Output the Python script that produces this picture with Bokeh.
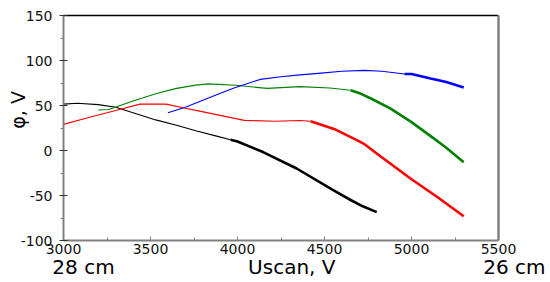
from bokeh.plotting import figure
from bokeh.models import Range1d, LinearAxis, FixedTicker
from bokeh.embed import file_html
from bokeh.resources import INLINE

# ---- data ----
black_u = [3000, 3080, 3200, 3300, 3400, 3530, 3650, 3760, 3880, 3960, 4000, 4150, 4340, 4540, 4650, 4720, 4800]
black_phi = [51.5, 52.5, 51, 48, 42, 34, 28, 22, 16, 12, 10, -2, -20, -43, -55, -62, -68.5]
black_thick_from = 3960

red_u = [3000, 3150, 3300, 3440, 3590, 3700, 3790, 3900, 4040, 4210, 4360, 4420, 4555, 4680, 4730, 4825, 5000, 5150, 5300]
red_phi = [29, 37, 44.5, 51.5, 51.5, 47, 43.5, 39, 33.5, 32.5, 33.3, 32.5, 24, 12, 7, -7, -32, -52, -73]
red_thick_from = 4420

green_u = [3200, 3260, 3400, 3530, 3650, 3760, 3830, 3990, 4170, 4360, 4530, 4650, 4710, 4770, 4880, 5000, 5110, 5200, 5300]
green_phi = [45, 45.5, 55, 63, 69, 72.6, 74, 72.5, 69, 71, 69.5, 67, 63, 57.5, 46.5, 31.5, 16, 3, -13]
green_thick_from = 4650

blue_u = [3600, 3700, 3790, 3880, 3980, 4050, 4130, 4250, 4360, 4480, 4600, 4730, 4830, 4960, 5000, 5110, 5200, 5300]
blue_phi = [42, 48, 55, 62, 69.5, 74, 79, 82, 84, 86, 88, 89, 88, 85, 85, 80, 76, 70]
blue_thick_from = 4960

x_ticks = [3000, 3500, 4000, 4500, 5000, 5500]
y_ticks = [-100, -50, 0, 50, 100, 150]
y_tick_labels = ["-100", "-50", "0", "50", "100", "150"]

x_title = "Uscan, V"
y_title = "φ, V"
left_note = "28 cm"
right_note = "26 cm"

FONT = "DejaVu Sans"
NBSP = "\u00a0"

p = figure(width=550, height=282, output_backend="svg", toolbar_location=None,
           x_range=Range1d(3000, 5500), y_range=Range1d(-100, 150),
           min_border_left=63, min_border_right=52, min_border_top=15, min_border_bottom=42)
p.outline_line_color = None
p.grid.visible = False
p.background_fill_color = "white"
p.border_fill_color = "white"

series = [
    (black_u, black_phi, black_thick_from, "black"),
    (red_u, red_phi, red_thick_from, "#ff0000"),
    (green_u, green_phi, green_thick_from, "#008000"),
    (blue_u, blue_phi, blue_thick_from, "#0000ff"),
]
for u, phi, cut, col in series:
    thin_u = [a for a in u if a <= cut]
    thin_p = [b for a, b in zip(u, phi) if a <= cut]
    thick_u = [a for a in u if a >= cut]
    thick_p = [b for a, b in zip(u, phi) if a >= cut]
    p.line(thin_u, thin_p, line_color=col, line_width=1.1)
    p.line(thick_u, thick_p, line_color=col, line_width=2.6)

# bottom axis (numbers)
xa = p.xaxis[0]
xa.ticker = FixedTicker(ticks=x_ticks, minor_ticks=[3250, 3750, 4250, 4750, 5250])
xa.axis_line_color = "#808080"
xa.axis_line_width = 2
xa.major_tick_line_color = "#808080"
xa.minor_tick_line_color = "#808080"
xa.major_tick_in = 4
xa.major_tick_out = 0
xa.minor_tick_in = 3
xa.minor_tick_out = 0
xa.major_label_standoff = 3
xa.major_label_text_font = FONT
xa.major_label_text_font_size = "14px"
xa.major_label_text_color = "#111111"

# second row below: "28 cm", axis title, "26 cm"
note_pos = [3115, 4312, 5500]
note_axis = LinearAxis(ticker=FixedTicker(ticks=note_pos),
                       major_label_overrides={3115: left_note, 4312: x_title,
                                              5500: NBSP * 5 + right_note},
                       axis_line_color=None, major_tick_line_color=None, minor_tick_line_color=None,
                       major_tick_in=0, major_tick_out=0, minor_tick_in=0, minor_tick_out=0,
                       major_label_standoff=-2,
                       major_label_text_font=FONT, major_label_text_font_size="20px",
                       major_label_text_color="black")
p.add_layout(note_axis, "below")

# left axis
ya = p.yaxis[0]
ya.ticker = FixedTicker(ticks=y_ticks, minor_ticks=[-75, -25, 25, 75, 125])
ya.major_label_overrides = dict(zip(y_ticks, y_tick_labels))
ya.axis_line_color = "#808080"
ya.axis_line_width = 2
ya.major_tick_line_color = "#333333"
ya.minor_tick_line_color = "#808080"
ya.major_tick_in = 4
ya.major_tick_out = 4
ya.minor_tick_in = 0
ya.minor_tick_out = 3
ya.major_label_standoff = 7
ya.major_label_text_font = FONT
ya.major_label_text_font_size = "14px"
ya.major_label_text_color = "#111111"
ya.axis_label = NBSP * 6 + y_title
ya.axis_label_text_font = FONT
ya.axis_label_text_font_size = "19px"
ya.axis_label_text_font_style = "normal"
ya.axis_label_text_color = "black"
ya.axis_label_standoff = -11

# top and right frame lines
top = LinearAxis(ticker=FixedTicker(ticks=[]), axis_line_color="black", axis_line_width=1.5,
                 major_label_text_font_size="0px", major_tick_line_color=None, minor_tick_line_color=None)
p.add_layout(top, "above")
right = LinearAxis(ticker=FixedTicker(ticks=[]), axis_line_color="#808080", axis_line_width=2.5,
                   major_label_text_font_size="0px", major_tick_line_color=None, minor_tick_line_color=None)
p.add_layout(right, "right")

open("out.html", "w").write(file_html(p, INLINE))
